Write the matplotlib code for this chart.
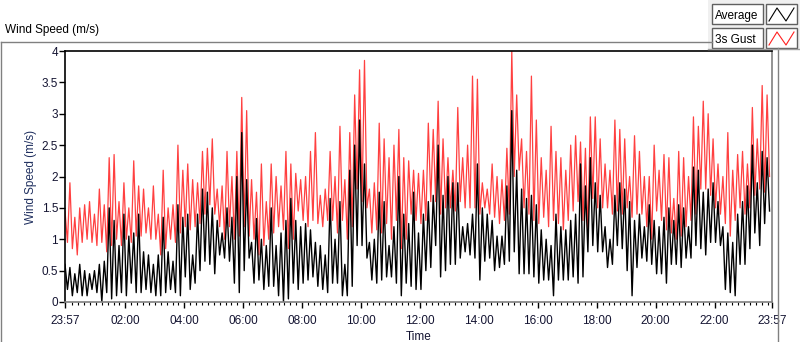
import numpy as np
import matplotlib
matplotlib.use("Agg")
import matplotlib.pyplot as plt
from matplotlib.lines import Line2D
from matplotlib.patches import Rectangle

plt.rcParams['font.family'] = ['Liberation Sans', 'DejaVu Sans']

# 10-minute bins starting at 23:57, local high / low
gust_hi = [1.45, 1.9, 1.35, 1.5, 1.55, 1.6, 1.4, 1.8, 1.55, 2.3,
           2.35, 1.6, 1.9, 1.5, 2.25, 1.85, 1.8, 1.5, 1.85, 1.4,
           2.1, 1.5, 1.55, 2.5, 2.1, 2.2, 1.95, 1.9, 2.4, 2.45,
           2.6, 1.8, 1.85, 2.4, 2.0, 2.4, 3.26, 3.05, 1.95, 1.75,
           2.2, 1.6, 2.2, 2.0, 1.85, 2.4, 2.2, 2.05, 1.95, 2.0,
           2.4, 2.7, 1.7, 1.8, 2.4, 2.0, 2.8, 1.95, 2.7, 3.3,
           3.7, 3.85, 1.8, 1.9, 2.85, 2.6, 2.3, 2.5, 2.75, 2.3,
           2.25, 2.1, 2.05, 2.1, 2.85, 2.75, 3.2, 2.6, 2.3, 2.1,
           3.1, 2.3, 2.5, 3.6, 3.55, 1.9, 1.8, 2.2, 2.0, 1.95,
           2.45, 4.0, 3.3, 2.6, 2.4, 3.6, 2.9, 2.3, 2.1, 2.8,
           2.4, 2.3, 2.1, 2.5, 2.65, 2.55, 2.45, 2.95, 2.95, 2.6,
           2.2, 2.1, 2.9, 2.75, 2.6, 2.0, 2.65, 2.4, 2.0, 2.0,
           2.5, 2.1, 2.35, 2.3, 1.65, 2.4, 2.3, 2.0, 2.95, 2.8,
           3.2, 3.0, 2.6, 2.2, 2.0, 2.7, 2.1, 2.35, 2.4, 2.2,
           3.1, 2.6, 3.45, 3.3]
gust_lo = [0.95, 0.85, 0.75, 0.95, 1.0, 0.95, 0.9, 0.95, 0.8, 0.9,
           1.0, 0.9, 1.0, 0.95, 1.05, 1.05, 1.1, 1.0, 1.0, 0.75,
           0.85, 1.0, 0.95, 1.1, 1.2, 1.15, 1.2, 1.25, 1.4, 1.55,
           1.4, 1.2, 1.0, 1.2, 1.0, 1.05, 1.2, 1.05, 1.0, 0.75,
           0.9, 1.0, 1.1, 1.2, 1.15, 0.85, 1.0, 1.45, 1.3, 1.2,
           1.3, 1.25, 1.2, 1.3, 1.3, 1.1, 1.3, 1.0, 1.2, 1.8,
           1.6, 1.5, 1.1, 1.15, 1.1, 1.25, 1.0, 1.3, 0.85, 1.0,
           1.4, 1.3, 1.25, 1.3, 1.6, 1.6, 1.4, 1.5, 1.5, 1.45,
           1.6, 1.5, 1.5, 1.5, 1.4, 1.5, 1.4, 1.35, 1.25, 1.3,
           1.4, 2.0, 2.1, 1.5, 1.4, 1.3, 1.25, 1.35, 1.2, 1.3,
           1.25, 1.15, 1.3, 1.45, 1.6, 1.3, 1.1, 1.65, 1.5, 1.5,
           1.5, 1.4, 1.45, 1.4, 1.5, 1.35, 1.4, 1.4, 1.2, 1.0,
           1.45, 1.3, 1.15, 1.1, 1.0, 1.05, 1.2, 1.3, 1.4, 1.8,
           1.8, 1.7, 1.5, 1.4, 1.25, 1.05, 1.3, 1.5, 1.4, 1.5,
           1.7, 1.8, 1.75, 2.0]
avg_hi = [0.6, 0.55, 0.45, 0.6, 0.5, 0.45, 0.5, 0.6, 0.65, 1.5,
          1.3, 0.9, 1.4, 1.05, 1.1, 1.4, 0.8, 0.75, 0.6, 0.75,
          1.35, 0.8, 0.65, 1.55, 1.35, 1.4, 0.75, 1.4, 1.8, 1.75,
          1.5, 1.3, 1.1, 1.5, 1.35, 2.0, 2.7, 1.95, 0.95, 1.33,
          1.0, 0.9, 1.5, 0.9, 1.1, 1.3, 1.65, 1.3, 1.2, 1.25,
          1.15, 0.95, 0.9, 0.75, 1.65, 1.0, 1.6, 0.6, 2.1, 2.5,
          2.9, 2.2, 0.95, 1.0, 1.75, 1.6, 0.9, 1.2, 2.0, 1.4,
          1.25, 1.75, 1.1, 1.4, 1.6, 1.7, 2.5, 1.7, 2.0, 1.9,
          1.9, 1.2, 1.25, 1.4, 2.2, 1.5, 1.4, 1.3, 1.05, 1.05,
          1.85, 3.05, 2.1, 1.8, 1.65, 1.7, 1.55, 1.15, 1.0, 0.9,
          1.4, 1.2, 1.15, 1.3, 1.4, 2.2, 1.85, 2.3, 1.9, 1.7,
          1.2, 1.0, 1.7, 1.9, 1.8, 1.6, 1.3, 1.4, 1.2, 1.55,
          1.3, 1.2, 1.35, 1.5, 1.3, 1.55, 1.5, 1.2, 2.15, 2.1,
          1.75, 1.8, 1.9, 1.6, 1.2, 1.1, 0.95, 1.4, 1.6, 1.85,
          2.5, 1.9, 2.4, 2.3]
avg_lo = [0.2, 0.1, 0.15, 0.1, 0.1, 0.2, 0.15, 0.0, 0.15, 0.05,
          0.1, 0.15, 0.1, 0.3, 0.15, 0.15, 0.2, 0.15, 0.1, 0.1,
          0.15, 0.2, 0.15, 0.1, 0.4, 0.2, 0.3, 0.5, 0.65, 0.6,
          0.45, 0.75, 0.7, 0.65, 0.3, 0.15, 0.5, 0.7, 0.3, 0.35,
          0.2, 0.25, 0.25, 0.1, 0.0, 0.05, 0.3, 0.2, 0.3, 0.35,
          0.4, 0.25, 0.2, 0.15, 0.3, 0.3, 0.1, 0.1, 0.25, 0.9,
          0.9, 0.7, 0.35, 0.3, 0.35, 0.4, 0.4, 0.3, 0.1, 0.3,
          0.25, 0.2, 0.2, 0.5, 0.55, 0.9, 0.4, 0.5, 0.6, 0.6,
          0.7, 0.8, 0.75, 0.7, 0.35, 0.65, 0.7, 0.5, 0.55, 0.6,
          0.65, 0.8, 0.45, 0.45, 0.45, 0.4, 0.3, 0.35, 0.35, 0.1,
          0.35, 0.35, 0.35, 0.4, 0.3, 0.4, 0.8, 0.9, 0.8, 0.8,
          0.55, 0.6, 0.9, 0.85, 0.5, 0.1, 0.55, 0.7, 0.65, 0.6,
          0.45, 0.45, 0.3, 0.6, 0.6, 0.55, 0.7, 0.7, 0.9, 0.85,
          0.75, 0.95, 0.95, 0.9, 0.2, 0.15, 0.1, 0.6, 0.6, 0.85,
          1.1, 0.9, 1.25, 1.45]

tick_pos = [0, 123, 243, 363, 483, 603, 723, 843, 963, 1083, 1203, 1323, 1440]
tick_lab = ["23:57", "02:00", "04:00", "06:00", "08:00", "10:00", "12:00",
            "14:00", "16:00", "18:00", "20:00", "22:00", "23:57"]


def series(hi, lo):
    start = np.arange(len(hi)) * 10.0
    t = np.column_stack([start, start + 5]).ravel()
    v = np.column_stack([hi, lo]).ravel()
    return t, v


def main():
    W, H = 800, 342
    fig = plt.figure(figsize=(W / 100, H / 100), dpi=100)
    ax = fig.add_axes([65 / W, 1 - 302 / H, (772 - 65) / W, (302 - 51) / H])

    t, g = series(gust_hi, gust_lo)
    ax.plot(t, g, color="#ff4040", lw=0.9)
    t, a = series(avg_hi, avg_lo)
    ax.plot(t, a, color="black", lw=1.0)

    ax.set_xlim(0, 1440)
    ax.set_ylim(0, 4)
    ax.set_yticks(np.arange(0, 4.01, 0.5))
    ax.set_yticklabels(["0", "0.5", "1", "1.5", "2", "2.5", "3", "3.5", "4"])
    ax.set_xticks(tick_pos)
    ax.set_xticklabels(tick_lab)
    ax.set_xticks(np.arange(15, 1440, 12), minor=True)
    ax.tick_params(axis="both", which="major", labelsize=8.5, length=4,
                   width=1, direction="out", colors="black")
    ax.tick_params(axis="x", which="minor", length=2.5, width=0.8)
    ax.tick_params(axis="x", pad=5)
    ax.tick_params(axis="y", pad=1)
    for lab in ax.get_xticklabels() + ax.get_yticklabels():
        lab.set_color("#141432")

    ax.spines["top"].set_color("black")
    ax.spines["left"].set_color("black")
    ax.spines["right"].set_color("#808080")
    ax.spines["bottom"].set_color("#808080")
    for s in ax.spines.values():
        s.set_linewidth(1.2)

    ax.set_xlabel("Time", fontsize=8.5, color="#141432", labelpad=3)
    ax.set_ylabel("Wind Speed (m/s)", fontsize=8.5, color="#1f2f5f", labelpad=3)

    # outer panel frame
    def px(x, y):
        return x / W, 1 - y / H
    fig.add_artist(Line2D(*zip(px(0.5, 42), px(712, 42)), color="#808080", lw=1))
    fig.add_artist(Line2D(*zip(px(0.5, 42), px(0.5, 342)), color="#808080", lw=1))
    fig.add_artist(Line2D(*zip(px(778, 48), px(778, 342)), color="#808080", lw=1))
    fig.text(5 / W, 1 - 33 / H, "Wind Speed (m/s)", fontsize=8.5,
             color="black", va="baseline")

    # legend
    fig.add_artist(Rectangle(px(708, 50), 92 / W, 50 / H, facecolor="#f0f0f0",
                             edgecolor="none"))
    fig.add_artist(Line2D(*zip(px(708, 49), px(800, 49)), color="#a0a0a0", lw=1))
    for row, (name, col) in enumerate([("Average", "black"), ("3s Gust", "#ff2020")]):
        y0 = 4 + row * 24
        fig.add_artist(Rectangle(px(712, y0 + 20), 51 / W, 20 / H,
                                 facecolor="white", edgecolor="#606060", lw=1))
        fig.text(715 / W, 1 - (y0 + 15) / H, name, fontsize=8.5, va="baseline")
        fig.add_artist(Rectangle(px(766, y0 + 20), 31 / W, 20 / H,
                                 facecolor="white", edgecolor="#606060", lw=1))
        xs = [769, 777, 786, 794]
        ys = [y0 + 17, y0 + 4, y0 + 17, y0 + 4]
        fig.add_artist(Line2D([x / W for x in xs], [1 - y / H for y in ys],
                              color=col, lw=0.8))

    fig.savefig("out.png", dpi=100)


if __name__ == "__main__":
    main()
